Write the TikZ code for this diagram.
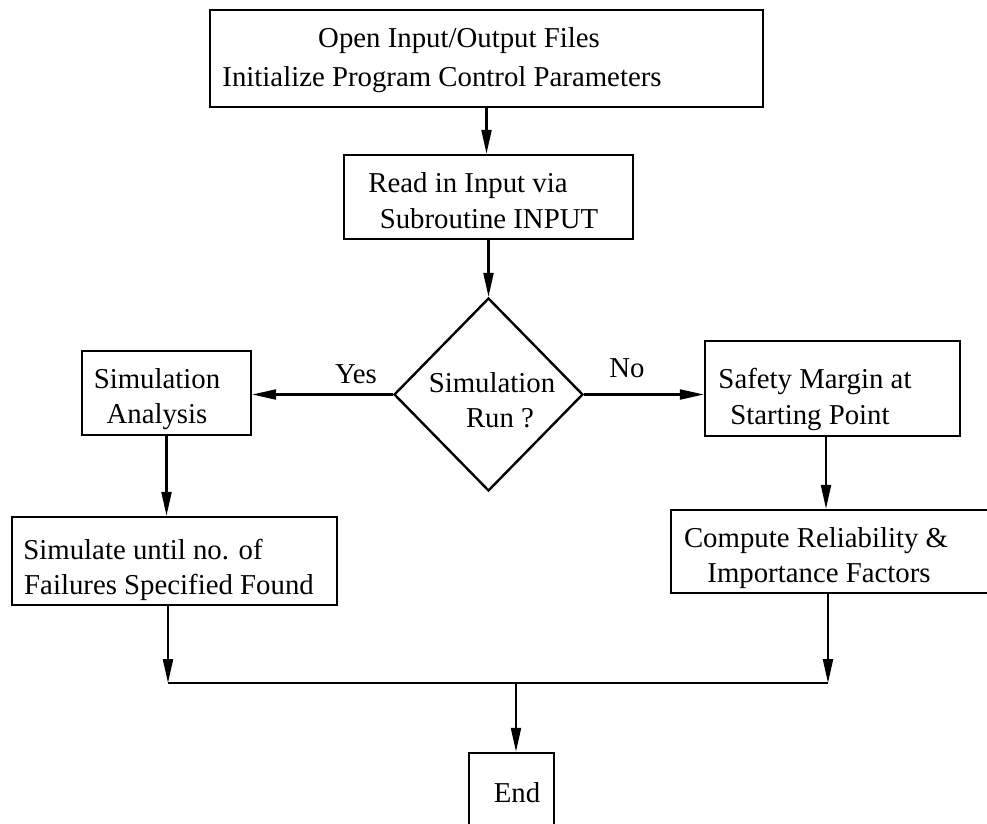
\documentclass[tikz,border=0pt]{standalone}
\usepackage{fontspec}
\setmainfont{Liberation Serif}
\usetikzlibrary{shapes.geometric,arrows.meta,calc}
\begin{document}
\begin{tikzpicture}[x=0.5pt,y=-0.5pt,
  boxst/.style={draw=black,line width=1.2pt,rectangle,inner sep=0pt},
  dia/.style={draw=black,line width=1.2pt,diamond,inner sep=0pt},
  txt/.style={inner sep=0pt,anchor=base,font=\fontsize{14.4pt}{18pt}\selectfont},
  arr/.style={line width=1.1pt,-{Triangle[length=12pt,width=5pt]}},
  ln/.style={line width=1.1pt}]
\useasboundingbox (0,0) rectangle (987,824);
\clip (0,0) rectangle (987,824);
\fill[white] (0,0) rectangle (987,824);
% boxes
\node[boxst,minimum width=276.5pt,minimum height=48.5pt] (b1) at (486.5,58.5) {};
\node[boxst,minimum width=144.5pt,minimum height=42pt] (b2) at (488.5,197) {};
\node[dia,minimum width=94.5pt,minimum height=96.5pt] (d) at (488.5,394.5) {};
\node[boxst,minimum width=84.5pt,minimum height=42pt] (la) at (166.5,393) {};
\node[boxst,minimum width=127.5pt,minimum height=47.5pt] (ra) at (832.5,388.5) {};
\node[boxst,minimum width=162.5pt,minimum height=44pt] (sim) at (174.5,561) {};
\node[boxst,minimum width=169.5pt,minimum height=41.5pt] (cr) at (840.5,551.5) {};
\node[boxst,minimum width=42.5pt,minimum height=48.5pt] (e) at (511.5,801.5) {};
% texts
\node[txt] (t1a) at (459,48) {Open Input/Output Files};
\node[txt] (t1b) at (442,87) {Initialize Program Control Parameters};
\node[txt] (t2a) at (468,193) {Read in Input via};
\node[txt] (t2b) at (489,229) {Subroutine INPUT};
\node[txt] (tda) at (492,393) {Simulation};
\node[txt] (tdb) at (500,428) {Run ?};
\node[txt] (tla) at (157,388) {Simulation};
\node[txt] (tlb) at (157,423) {Analysis};
\node[txt] (tra) at (815,388) {Safety Margin at};
\node[txt] (trb) at (810,424) {Starting Point};
\node[txt] (tsa) at (143,559) {Simulate until no. of};
\node[txt] (tsb) at (169,594) {Failures Specified Found};
\node[txt] (tca) at (816,547) {Compute Reliability \&};
\node[txt] (tcb) at (819,582) {Importance Factors};
\node[txt] (te) at (517,802) {End};
\node[txt] (yes) at (356,383) {Yes};
\node[txt] (no) at (627,378) {No};
% junction coordinates
\coordinate (j1) at (168,683);
\coordinate (j2) at (828,683);
\coordinate (j3) at (516,683);
\coordinate (rx) at (826,0);
% connectors
\draw[arr] (b1.south) -- (b1.south |- b2.north);
\draw[arr] (b2.south) -- (d.north);
\draw[arr] (d.west) -- (d.west -| la.east);
\draw[arr] (d.east) -- (d.east -| ra.west);
\draw[arr] (la.south) -- (la.south |- sim.north);
\draw[arr] (ra.south -| rx) -- (rx |- cr.north);
\draw[arr] (sim.south -| j1) -- (j1);
\draw[arr] (cr.south -| j2) -- (j2);
\draw[ln] (j1) -- (j2);
\draw[arr] (j3) -- (j3 |- e.north);
\end{tikzpicture}
\end{document}
